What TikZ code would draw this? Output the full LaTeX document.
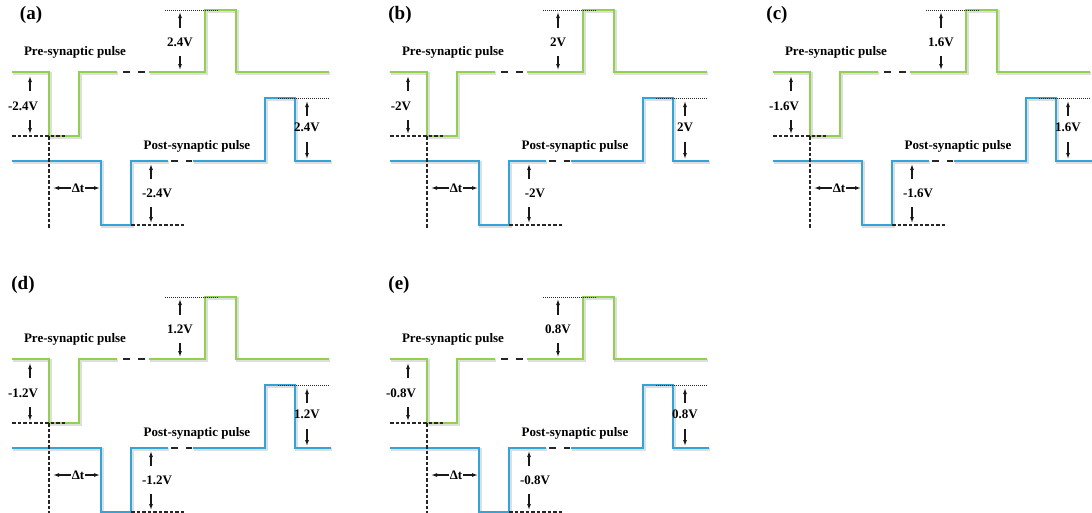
\documentclass[tikz,border=0pt]{standalone}
\usepackage{fontspec}
\setmainfont{Liberation Serif}
\usetikzlibrary{calc}
\usetikzlibrary{arrows.meta}

\definecolor{pregreen}{RGB}{146,208,80}
\definecolor{postblue}{RGB}{52,163,216}

\begin{document}
\begin{tikzpicture}[x=1pt,y=-1pt,
    shade/.style={preaction={draw=black!13, line width=2.6pt,
        transform canvas={xshift=1.3pt, yshift=-1.3pt}}},
    pre/.style={shade, pregreen, line width=2pt, line join=miter},
    post/.style={shade, postblue, line width=2pt, line join=miter},
    guide/.style={black!85, line width=1.2pt, dash pattern=on 3.5pt off 2pt},
    level/.style={black!85, line width=1pt, dash pattern=on 1pt off 1pt},
    gap/.style={black!85, line width=1.4pt, dash pattern=on 7pt off 8pt},
    volt/.style={-{Latex[length=6pt,width=4pt]}, black!90, line width=1.1pt},
    lbl/.style={font=\bfseries\fontsize{13}{15}\selectfont, inner sep=1pt},
    tag/.style={font=\bfseries\fontsize{19}{22}\selectfont, inner sep=0pt}]
    \useasboundingbox (0,0) rectangle (1092,512);

    \foreach \dx/\dy/\amp/\tx/\ty/\t in {0/0/2.4/31/15/a, 378/0/2/400/15/b,
        761/0/1.6/777/15/c, 0/287/1.2/23/285/d, 378/287/0.8/399/285/e} {
    \node[tag] (tag\t) at (\tx,\ty) {(\t)};
    \begin{scope}[shift={(\dx,\dy)}]
        \coordinate (A) at (12,72);
        \coordinate (B) at (49,136);
        \coordinate (C) at (205,10);
        \coordinate (D) at (101,225);
        \coordinate (E) at (265,98);

        % pre-synaptic pulse
        \draw[pre] (A) -- (49,72) -- (B) -- (79,136) -- (79,72) -- (117,72);
        \draw[gap] (123,72) -- (146,72);
        \draw[pre] (149,72) -- (205,72) -- (C) -- (236,10) -- (236,72) -- (329,72);

        % post-synaptic pulse
        \draw[post] (12,161) -- (101,161) -- (D) -- (131,225) -- (131,161) -- (168,161);
        \draw[gap] (171,161) -- (192,161);
        \draw[post] (193,161) -- (265,161) -- (E) -- (295,98) -- (295,161) -- (331,161);

        % reference levels
        \draw[guide] (12,136) -- (65,136);
        \draw[guide] (B) -- (49,228);
        \draw[guide] (131,225) -- (185,225);
        \draw[level] (165,10) -- (218,10);
        \draw[level] (278,98) -- (330,98);

        \node[lbl] at (75,52) {Pre-synaptic pulse};
        \node[lbl] at (197,146) {Post-synaptic pulse};

        % amplitudes
        \node[lbl] (v1) at (23,106) {-\amp V};
        \draw[volt] (30,91) -- (30,76);
        \draw[volt] (30,120) -- (30,134);

        \node[lbl] (v2) at (180,42) {\amp V};
        \draw[volt] (180,28) -- (180,12);
        \draw[volt] (180,56) -- (180,70);

        \node[lbl] (v3) at (157,193) {-\amp V};
        \draw[volt] (151,179) -- (151,164);
        \draw[volt] (151,207) -- (151,223);

        \node[lbl] (v4) at (307,127) {\amp V};
        \draw[volt] (307,116) -- (307,101);
        \draw[volt] (307,142) -- (307,159);

        % delay
        \node[lbl] (dt) at (78,188) {Δt};
        \draw[volt] (dt.west) -- (53,188);
        \draw[volt] (dt.east) -- (100,188);
    \end{scope}
    }
\end{tikzpicture}
\end{document}
